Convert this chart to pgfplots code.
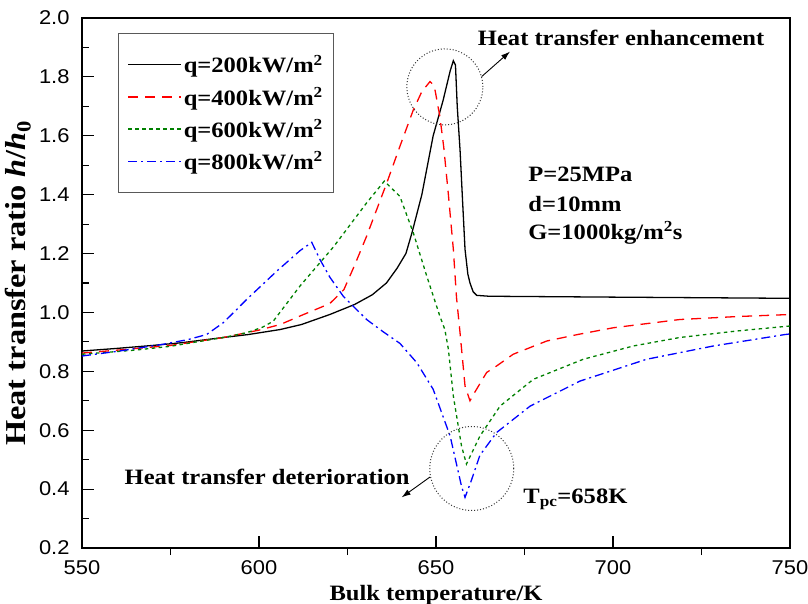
\documentclass[border=0pt]{standalone}
\usepackage{fontspec}
\setmainfont{Liberation Serif}[FakeStretch=1.12]
\newfontfamily\numfont{Liberation Sans}[FakeStretch=1.1]
\usepackage{pgfplots}
\pgfplotsset{compat=1.18}
\usetikzlibrary{arrows.meta}
\newcommand{\lbl}{\bfseries\fontsize{22}{26}\selectfont}
\definecolor{qgreen}{RGB}{0,128,0}

\begin{document}
\begin{tikzpicture}
\path[use as bounding box] (-82bp,-56bp) rectangle (726bp,548bp);
\begin{axis}[
    scale only axis,
    width=708bp, height=530bp,
    xmin=550, xmax=750,
    ymin=0.2, ymax=2.0,
    xtick={550,600,...,750},
    ytick={0.2,0.4,...,2.0},
    minor x tick num=1, minor y tick num=1,
    xtick pos=bottom, ytick pos=left,
    tick align=inside,
    major tick length=12bp, minor tick length=7bp,
    tick style={black, line width=1.2pt},
    minor x tick style={yshift=-7bp},
    axis line style={line width=1.6pt},
    ticklabel style={font=\numfont\fontsize{20}{24}\selectfont},
    /pgf/number format/assume math mode=true,
    yticklabel style={xshift=-9bp, /pgf/number format/.cd, fixed, fixed zerofill, precision=1},
    xticklabel style={yshift=-9bp, /pgf/number format/.cd, fixed, precision=0},
    xlabel={Bulk temperature/K},
    ylabel={Heat transfer ratio \textit{h}/\textit{h}\textsubscript{0}},
    xlabel style={font=\bfseries\fontsize{22}{26}\selectfont, at={(axis description cs:0.5,-0.089)}, anchor=center},
    ylabel style={font=\bfseries\fontsize{29}{33}\selectfont, at={(axis description cs:-0.0904,0.5)}, anchor=center},
    legend cell align=left,
    legend style={at={(axis description cs:0.051,0.972)}, anchor=north west,
        draw=gray!70!black, line width=0.8pt, font=\lbl,
        inner xsep=9bp, inner ysep=20bp, row sep=9bp},
    legend image code/.code={\draw[#1] (0bp,0bp) -- (53bp,0bp);},
]
\addplot[black, line width=1.3pt] coordinates {
 (550,0.869) (560,0.878) (570,0.888) (578,0.897) (590,0.915) (597,0.925)
 (606,0.942) (612,0.959) (620,0.993) (627,1.027) (632,1.060) (636,1.100)
 (639,1.150) (641.5,1.200) (643.2,1.270) (646,1.400) (649.2,1.600)
 (652,1.720) (654,1.820) (654.9,1.855) (655.5,1.840) (656,1.700)
 (656.8,1.550) (657.5,1.380) (658.2,1.214) (659,1.130) (659.6,1.100)
 (660.5,1.070) (661.5,1.058) (665,1.055) (700,1.052) (750,1.048)
};
\addlegendentry{q=200kW/m\textsuperscript{2}}
\addplot[red, line width=1.3pt, dash pattern=on 10bp off 7bp] coordinates {
 (550,0.862) (560,0.872) (575,0.888) (590,0.915) (600,0.940) (606,0.959)
 (612,0.990) (620,1.030) (624,1.078) (627,1.160) (630.4,1.259)
 (636.1,1.440) (639.8,1.564) (643.6,1.688) (646,1.750) (648.3,1.784)
 (649.5,1.770) (651.1,1.665) (652.2,1.560) (653.5,1.400) (654.9,1.214)
 (655.8,1.050) (656.8,0.930) (658.2,0.750) (659.6,0.700) (661,0.730)
 (664.3,0.796) (667.1,0.818) (671.8,0.858) (681.3,0.903) (690,0.925)
 (700.1,0.948) (718.9,0.976) (735,0.986) (750,0.993)
};
\addlegendentry{q=400kW/m\textsuperscript{2}}
\addplot[qgreen, line width=1.3pt, dash pattern=on 3.5bp off 3.5bp] coordinates {
 (550,0.858) (565,0.872) (575,0.885) (582.4,0.900) (590,0.915)
 (596.5,0.931) (601,0.950) (604,0.970) (607.8,1.030) (611.6,1.090)
 (621,1.222) (630.4,1.372) (635.4,1.446) (639.8,1.394) (643.6,1.270)
 (647.4,1.123) (651.1,0.987) (652.5,0.942) (653.5,0.875) (654.9,0.716)
 (657.2,0.547) (658.6,0.485) (660,0.520) (662.4,0.580) (668.1,0.682)
 (677.5,0.773) (691.6,0.841) (705.7,0.886) (718.9,0.915) (735,0.937)
 (750,0.954)
};
\addlegendentry{q=600kW/m\textsuperscript{2}}
\addplot[blue, line width=1.3pt, dash pattern=on 9bp off 4bp on 2bp off 4bp] coordinates {
 (550,0.852) (560,0.868) (573,0.892) (580,0.908) (585.2,0.925)
 (589.9,0.965) (593.7,1.010) (596.5,1.044) (605,1.140) (611.6,1.210)
 (614.9,1.238) (617.2,1.180) (620,1.120) (623.8,1.055) (630.4,0.976)
 (635,0.935) (639.8,0.895) (644.6,0.829) (649.2,0.739) (654,0.580)
 (657.2,0.410) (658.2,0.372) (660,0.430) (662.4,0.515) (667.1,0.592)
 (676.6,0.682) (690.7,0.767) (709.5,0.841) (728.3,0.886) (748.6,0.925)
 (750,0.927)
};
\addlegendentry{q=800kW/m\textsuperscript{2}}

\draw[black!80, line width=1pt, dotted] (axis cs:652.5,1.766) circle[radius=38bp];
\draw[black!80, line width=1pt, dotted] (axis cs:660.1,0.470) circle[radius=42bp];
\draw[line width=0.9pt, -{Latex[length=9bp,width=6bp]}] (axis cs:662.9,1.801) -- (axis cs:670.9,1.886);
\draw[line width=0.9pt, -{Latex[length=9bp,width=6bp]}] (axis cs:648.3,0.441) -- (axis cs:640.3,0.372);
\node[font=\lbl, anchor=center] at (axis cs:702.3,1.932) {Heat transfer enhancement};
\node[font=\lbl, anchor=center] at (axis cs:602.3,0.441) {Heat transfer deterioration};
\node[font=\lbl, anchor=west] at (axis cs:675.1,1.468) {P=25MPa};
\node[font=\lbl, anchor=west] at (axis cs:675.1,1.369) {d=10mm};
\node[font=\lbl, anchor=west] at (axis cs:675.1,1.271) {G=1000kg/m\textsuperscript{2}s};
\node[font=\lbl, anchor=west] at (axis cs:673.7,0.366) {T\textsubscript{pc}=658K};
\end{axis}
\end{tikzpicture}
\end{document}
